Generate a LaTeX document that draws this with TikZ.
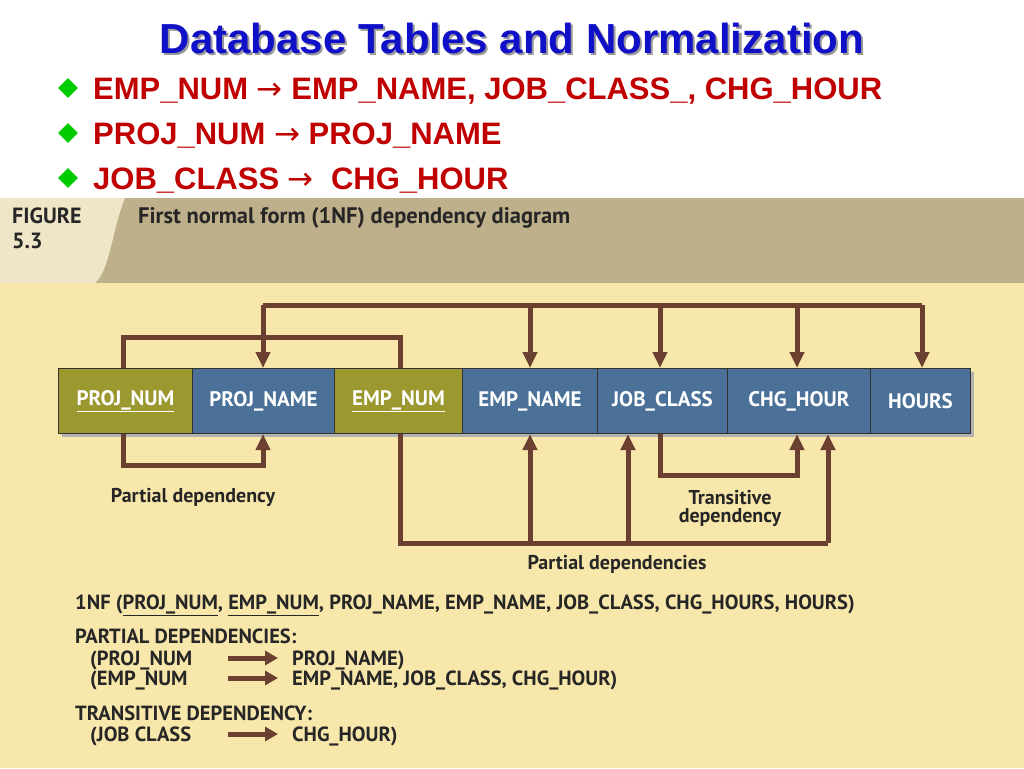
\documentclass[tikz,border=0pt]{standalone}
\usepackage{fontspec}
\setmainfont{PT Sans}
\newfontfamily\arial{Liberation Sans}
\newfontfamily\djv{DejaVu Sans}
\usetikzlibrary{arrows.meta,shapes.geometric,calc}
\definecolor{titleblue}{HTML}{1010C8}
\definecolor{bulred}{HTML}{C00000}
\definecolor{bulgreen}{HTML}{00CC00}
\definecolor{band}{HTML}{BDB08A}
\definecolor{bandlight}{HTML}{EFE6C8}
\definecolor{body}{HTML}{F8E7AA}
\definecolor{olive}{HTML}{9A982F}
\definecolor{cellblue}{HTML}{4B7199}
\definecolor{brn}{HTML}{6B4030}
\newcommand{\arr}{{\djv\mdseries →}}
\begin{document}
\begin{tikzpicture}[x=1pt,y=-1pt,
  cell/.style={draw=black!80,line width=1pt,minimum height=65pt,inner sep=0pt,text=white,font=\fontsize{21}{21}\selectfont\bfseries},
  dep/.style={draw=brn,line width=5pt},
  deparr/.style={dep,-{Triangle[length=16pt,width=14pt]}},
  lbl/.style={font=\fontsize{20}{22}\selectfont\bfseries,text=black!85,align=center},
  btxt/.style={font=\fontsize{20.5}{20}\selectfont\bfseries,text=black!85,anchor=base west,inner sep=0pt},
  bul/.style={font=\arial\fontsize{31}{31}\selectfont\bfseries,text=bulred,anchor=base west,inner sep=0pt}]
\useasboundingbox (0,0) rectangle (1024,768);
\fill[white] (0,0) rectangle (1024,768);
% figure background
\fill[body] (0,198) rectangle (1024,768);
\fill[band] (0,198) rectangle (1024,283);
\fill[bandlight] (0,198) -- (125,198) .. controls (112,230) and (110,270) .. (95,283) -- (0,283) -- cycle;
\node[anchor=base west,inner sep=0pt,font=\fontsize{22}{22}\selectfont\bfseries,text=black!85] (fig) at (12,223) {FIGURE};
\node[anchor=base west,inner sep=0pt,font=\fontsize{22}{22}\selectfont\bfseries,text=black!85] (fignum) at (12,248) {5.3};
\node[anchor=base west,inner sep=0pt,font=\fontsize{22.5}{22}\selectfont\bfseries,text=black!85] (figt) at (138,223) {First normal form (1NF) dependency diagram};
% title
\node[font=\arial\fontsize{42}{42}\selectfont\bfseries,text=black!40] at (514,40) {Database Tables and Normalization};
\node[font=\arial\fontsize{42}{42}\selectfont\bfseries,text=titleblue] (title) at (512,38) {Database Tables and Normalization};
% bullets
\foreach \yy/\tt [count=\i] in {99/{EMP\_NUM \arr{} EMP\_NAME, JOB\_CLASS\_, CHG\_HOUR},144/{PROJ\_NUM \arr{} PROJ\_NAME},189/{JOB\_CLASS \arr~ CHG\_HOUR}}{
  \node[diamond,fill=bulgreen,inner sep=0pt,minimum width=20pt,minimum height=20pt] (d\i) at (68,\yy-11) {};
  \node[bul] (b\i) at (93,\yy) {\tt};
}
% table
\fill[black!30] (62,372) rectangle (974,437);
\node[cell,fill=olive,minimum width=134pt,anchor=north west] (c1) at (58,368) {\underline{PROJ\_NUM}};
\node[cell,fill=cellblue,minimum width=142pt,anchor=north west] (c2) at (192,368) {PROJ\_NAME};
\node[cell,fill=olive,minimum width=128pt,anchor=north west] (c3) at (334,368) {\underline{EMP\_NUM}};
\node[cell,fill=cellblue,minimum width=135pt,anchor=north west] (c4) at (462,368) {EMP\_NAME};
\node[cell,fill=cellblue,minimum width=130pt,anchor=north west] (c5) at (597,368) {JOB\_CLASS};
\node[cell,fill=cellblue,minimum width=143pt,anchor=north west] (c6) at (727,368) {CHG\_HOUR};
\node[cell,fill=cellblue,minimum width=100pt,anchor=north west] (c7) at (870,368) {HOURS};
% top connectors
\draw[dep] (c1.north -| 123,0) -- (123,337) -- (400,337) -- (c3.north -| 400,0);
\draw[dep] (263,305) -- (922,305);
\foreach \xx/\c in {263/c2,530/c4,660/c5,797/c6,922/c7}
  \draw[deparr] (\xx,305) -- (\c.north -| \xx,0);
% bottom connectors
\draw[deparr] (c1.south -| 123,0) -- (123,465) -- (263,465) -- (c2.south -| 263,0);
\draw[dep] (c3.south -| 400,0) -- (400,543) -- (828,543);
\draw[deparr] (530,543) -- (c4.south -| 530,0);
\draw[deparr] (628,543) -- (c5.south -| 628,0);
\draw[deparr] (828,543) -- (c6.south -| 828,0);
\draw[deparr] (c5.south -| 660,0) -- (660,475) -- (797,475) -- (c6.south -| 797,0);
\node[lbl] (l1) at (193,497) {Partial dependency};
\node[lbl] (l2) at (730,508) {Transitive\\[-4pt]dependency};
\node[lbl] (l3) at (617,564) {Partial dependencies};
% bottom text
\node[btxt] (t1) at (75,609) {1NF (\underline{PROJ\_NUM}, \underline{EMP\_NUM}, PROJ\_NAME, EMP\_NAME, JOB\_CLASS, CHG\_HOURS, HOURS)};
\node[btxt] (t2) at (75,643) {PARTIAL DEPENDENCIES:};
\node[btxt] (t3) at (90,665) {(PROJ\_NUM};
\node[btxt] (t4) at (292,665) {PROJ\_NAME)};
\node[btxt] (t5) at (90,685) {(EMP\_NUM};
\node[btxt] (t6) at (292,685) {EMP\_NAME, JOB\_CLASS, CHG\_HOUR)};
\node[btxt] (t7) at (75,720) {TRANSITIVE DEPENDENCY:};
\node[btxt] (t8) at (90,741) {(JOB CLASS};
\node[btxt] (t9) at (292,741) {CHG\_HOUR)};
\foreach \yy/\a/\b in {658/ta/tb,678/tc/td,734/te/tf}{
  \coordinate (\a) at (228,\yy); \coordinate (\b) at (278,\yy);
  \draw[draw=brn,line width=5pt,-{Triangle[length=13pt,width=14pt]}] (\a) -- (\b);
}
\end{tikzpicture}
\end{document}
